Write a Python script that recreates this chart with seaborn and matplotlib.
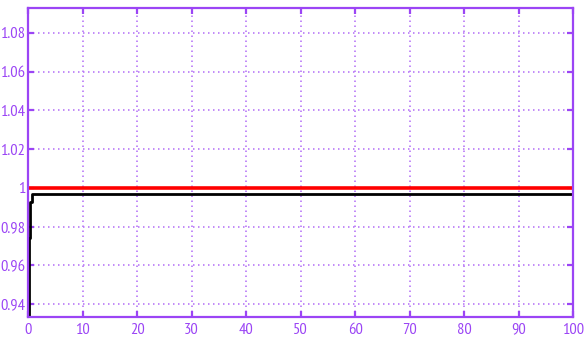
import matplotlib
matplotlib.use("Agg")
import matplotlib.pyplot as plt
import seaborn as sns
import pandas as pd

# Step response of the output against the unit reference
time = [0.0, 0.1, 0.1, 0.35, 0.35, 0.8, 0.8, 100.0]
response = [0.90, 0.90, 0.974, 0.974, 0.9925, 0.9925, 0.9967, 0.9967]
ref_time = [0.0, 100.0]
reference = [1.0, 1.0]

x_ticks = [0, 10, 20, 30, 40, 50, 60, 70, 80, 90, 100]
y_ticks = [0.94, 0.96, 0.98, 1.0, 1.02, 1.04, 1.06, 1.08]
y_tick_labels = ["0.94", "0.96", "0.98", "1", "1.02", "1.04", "1.06", "1.08"]

sns.set_theme(style="white")
plt.rcParams["font.family"] = ["PT Sans Narrow", "DejaVu Sans"]

purple = "#9b45f5"
grid_purple = "#b877f7"

fig = plt.figure(figsize=(5.85, 3.41), dpi=100)
ax = fig.add_axes([0.048, 0.070, 0.932, 0.907])

df_resp = pd.DataFrame({"t": time, "y": response})
df_ref = pd.DataFrame({"t": ref_time, "y": reference})

sns.lineplot(data=df_ref, x="t", y="y", ax=ax, color="#ff0000", linewidth=2.6,
             sort=False, estimator=None)
sns.lineplot(data=df_resp, x="t", y="y", ax=ax, color="black", linewidth=2.0,
             sort=False, estimator=None)

ax.set_xlim(0, 100)
ax.set_ylim(0.9333, 1.0929)
ax.set_xticks(x_ticks)
ax.set_xticklabels([str(v) for v in x_ticks])
ax.set_yticks(y_ticks)
ax.set_yticklabels(y_tick_labels)
ax.set_xlabel("")
ax.set_ylabel("")

ax.grid(True, color=grid_purple, linestyle=(0, (0.9, 2.1)), linewidth=1.2)
for spine in ax.spines.values():
    spine.set_color(purple)
    spine.set_linewidth(1.6)

ax.tick_params(axis="both", which="both", direction="in", length=4, width=1.6,
               color=purple, labelcolor=purple, labelsize=11.8,
               top=True, right=True, bottom=True, left=True)
ax.tick_params(axis="x", pad=4)
ax.tick_params(axis="y", pad=2)

fig.savefig("out.png", dpi=100)
